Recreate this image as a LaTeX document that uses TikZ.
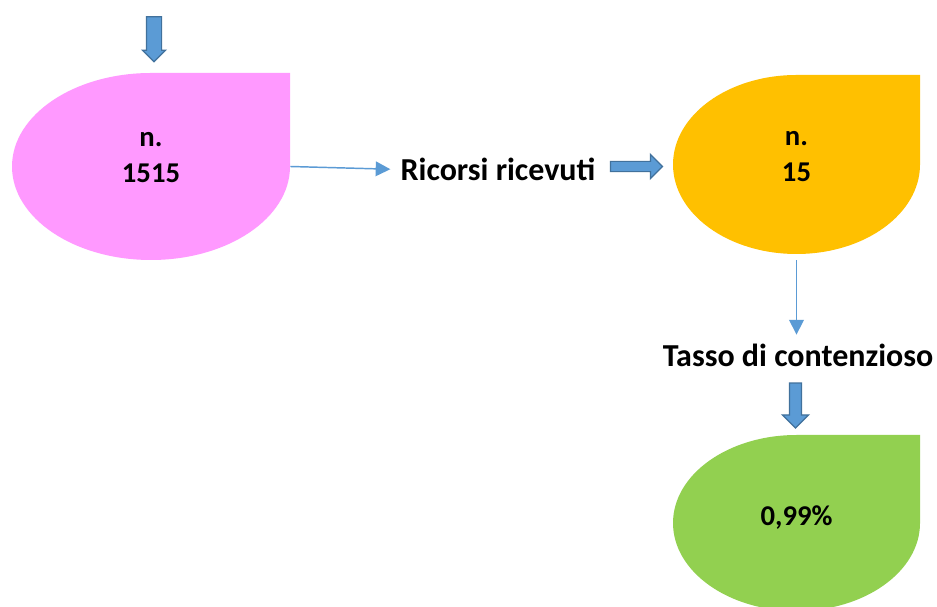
\documentclass[tikz,border=0pt]{standalone}
\usepackage{fontspec}
\setmainfont{Carlito}
\usepackage{xcolor}
\usepackage{tikz}
\usetikzlibrary{positioning, arrows.meta, shapes.arrows}
\definecolor{droppink}{HTML}{FF99FF}
\definecolor{droporange}{HTML}{FFC000}
\definecolor{dropgreen}{HTML}{92D050}
\definecolor{arrowblue}{HTML}{5B9BD5}
\definecolor{arrowedge}{HTML}{41719C}

\tikzset{
  drop/.style n args={3}{minimum width=#1, minimum height=#2, inner sep=0pt,
    path picture={\fill[#3] (path picture bounding box.north east)
      -- (path picture bounding box.east)
      arc[start angle=0, end angle=-270, x radius=#1/2, y radius=#2/2] -- cycle;}},
  numtext/.style={font=\fontsize{21.5}{27}\selectfont\bfseries, align=center, inner sep=0pt},
  headtext/.style={font=\fontsize{24}{29}\selectfont\bfseries, inner sep=0pt},
  link/.style={draw=arrowblue, line width=1.1pt, -{Triangle[length=11pt, width=11pt]}},
  blockarrow/.style n args={3}{single arrow, fill=arrowblue, draw=arrowedge, line width=0.9pt,
    minimum height=#1, inner sep=#2, single arrow head extend=#3, single arrow tip angle=90},
}

\begin{document}
\begin{tikzpicture}[x=0.75pt, y=0.75pt]
  \path[fill=white, use as bounding box] (0,0) rectangle (937,606);

  % the three drops
  \node[drop={208.5pt}{140.25pt}{droppink}] (pinkdrop) at (151,439.5) {};
  \node[drop={185.25pt}{134.25pt}{droporange}] (orangedrop) at (796.5,441.5) {};
  \node[drop={185.25pt}{132pt}{dropgreen}] (greendrop) at (796.5,83) {};

  \node[numtext] (pinkval) at ([yshift=6.4pt]pinkdrop.center) {n.\\1515};
  \node[numtext] (orangeval) at ([yshift=5.6pt]orangedrop.center) {n.\\15};
  \node[numtext] (greenval) at ([yshift=3.8pt]greendrop.center) {0,99\%};

  % captions
  \node[headtext] (ricorsi) at (498,436.5) {Ricorsi ricevuti};
  \node[headtext] (tasso) at (798,250.2) {Tasso di contenzioso};

  % block arrows
  \node[blockarrow={33.75pt}{5.25pt}{3pt}, rotate=-90] (toparrow) at (154,570.5) {};
  \node[blockarrow={39pt}{3.4pt}{5.25pt}] (ricarrow) at (634,439.5) {};
  \node[blockarrow={33.75pt}{4.1pt}{5.25pt}, rotate=-90] (tassoarrow) at (795.5,203.5) {};

  % thin links
  \draw[link, shorten >=7.5pt] (pinkdrop.east) -- (ricorsi.west);
  \draw[link, shorten <=4.5pt, shorten >=7.2pt] (orangedrop.south) -- (orangedrop.south |- tasso.north);
\end{tikzpicture}
\end{document}
